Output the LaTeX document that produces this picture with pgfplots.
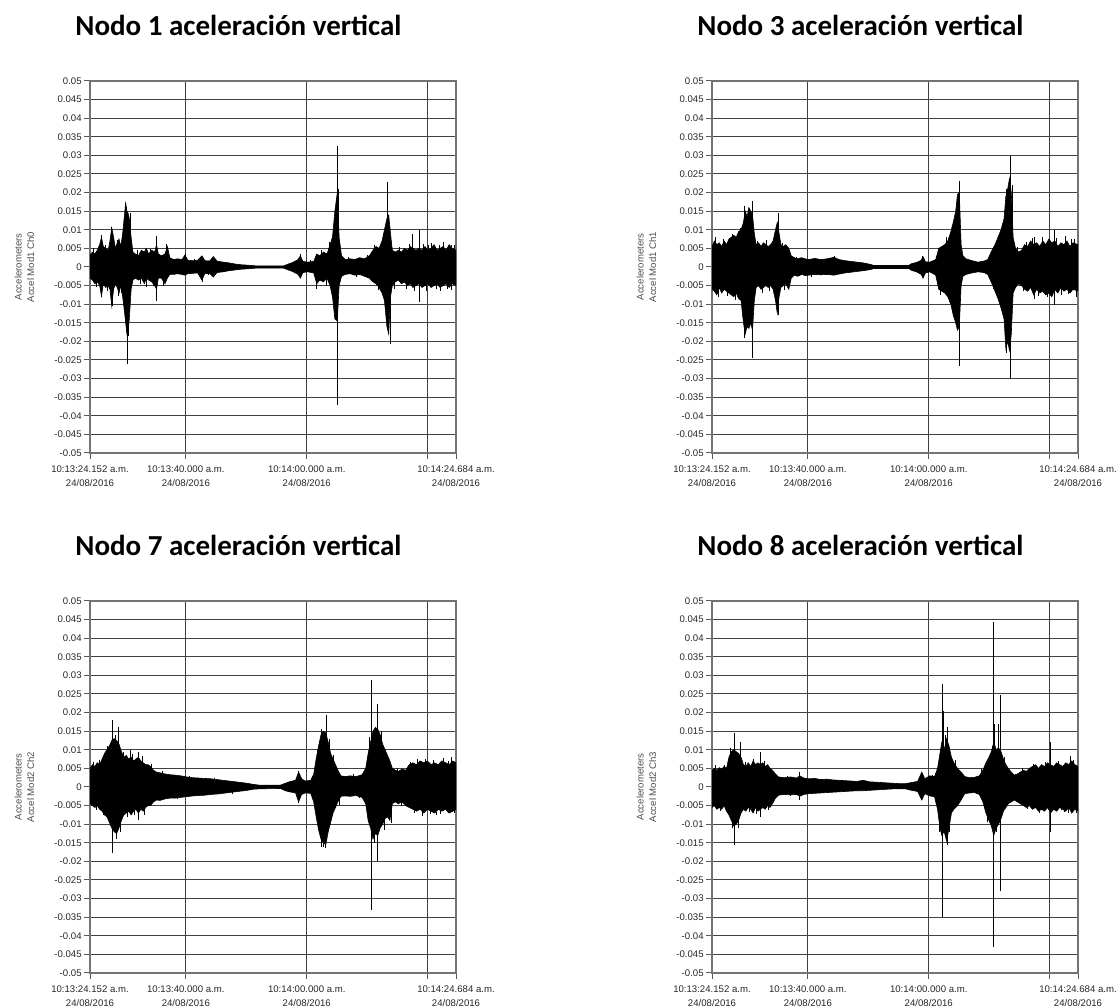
\documentclass[border=0pt]{standalone}
\usepackage{fontspec}
\setmainfont{Liberation Sans}
\newfontfamily\titlefont{Carlito}
\usepackage{pgfplots}
\usepackage{pgfplotstable}
\pgfplotsset{compat=1.18}
\usepgfplotslibrary{fillbetween}

% envelope of each record: t (s from 10:13:24.152), upper, lower
\pgfplotstableread{
t hi lo
0.0 0.0032 -0.0030
0.4 0.0040 -0.0035
0.8 0.0035 -0.0045
1.2 0.0045 -0.0040
1.6 0.0060 -0.0050
1.9 0.0080 -0.0078
2.2 0.0055 -0.0045
2.6 0.0050 -0.0055
3.0 0.0045 -0.0050
3.3 0.0070 -0.0060
3.6 0.0105 -0.0105
3.9 0.0080 -0.0060
4.2 0.0050 -0.0045
4.5 0.0065 -0.0055
4.8 0.0075 -0.0070
5.1 0.0055 -0.0050
5.4 0.0090 -0.0080
5.7 0.0140 -0.0120
5.9 0.0172 -0.0150
6.1 0.0150 -0.0180
6.3 0.0145 -0.0170
6.5 0.0130 -0.0140
6.8 0.0080 -0.0060
7.1 0.0040 -0.0035
7.5 0.0035 -0.0030
8.0 0.0030 -0.0035
8.5 0.0045 -0.0030
9.0 0.0040 -0.0045
9.3 0.0050 -0.0030
9.7 0.0035 -0.0035
10.2 0.0045 -0.0040
10.7 0.0040 -0.0050
11.0 0.0060 -0.0060
11.3 0.0035 -0.0030
11.8 0.0030 -0.0030
12.4 0.0035 -0.0045
12.8 0.0055 -0.0030
13.2 0.0025 -0.0020
13.8 0.0020 -0.0020
14.5 0.0022 -0.0018
15.2 0.0020 -0.0020
15.7 0.0032 -0.0022
16.2 0.0018 -0.0018
17.0 0.0017 -0.0017
17.8 0.0018 -0.0016
18.5 0.0030 -0.0035
19.0 0.0017 -0.0018
19.8 0.0016 -0.0017
20.4 0.0028 -0.0027
21.0 0.0016 -0.0015
22.0 0.0013 -0.0013
23.0 0.0011 -0.0010
24.0 0.0008 -0.0008
25.0 0.0006 -0.0006
26.0 0.0005 -0.0005
27.5 0.0003 -0.0003
32.0 0.0003 -0.0003
32.8 0.0008 -0.0008
33.5 0.0012 -0.0012
34.4 0.0020 -0.0020
34.8 0.0030 -0.0030
35.2 0.0015 -0.0015
36.0 0.0013 -0.0013
37.0 0.0015 -0.0016
37.5 0.0035 -0.0045
38.0 0.0030 -0.0035
38.6 0.0040 -0.0040
39.2 0.0035 -0.0030
39.7 0.0060 -0.0050
40.1 0.0080 -0.0080
40.5 0.0150 -0.0140
40.9 0.0200 -0.0145
41.2 0.0080 -0.0050
41.6 0.0030 -0.0025
42.2 0.0020 -0.0020
43.0 0.0022 -0.0018
43.8 0.0020 -0.0022
44.6 0.0025 -0.0020
45.4 0.0022 -0.0025
46.2 0.0030 -0.0030
46.8 0.0045 -0.0040
47.3 0.0055 -0.0045
47.8 0.0050 -0.0055
48.3 0.0070 -0.0070
48.7 0.0100 -0.0090
49.1 0.0130 -0.0160
49.4 0.0140 -0.0180
49.7 0.0090 -0.0080
50.0 0.0045 -0.0050
50.5 0.0040 -0.0040
51.0 0.0045 -0.0035
51.5 0.0040 -0.0045
52.0 0.0050 -0.0040
52.5 0.0045 -0.0050
53.0 0.0055 -0.0045
53.4 0.0050 -0.0055
53.9 0.0045 -0.0050
54.4 0.0050 -0.0045
54.9 0.0045 -0.0055
55.4 0.0055 -0.0050
55.9 0.0045 -0.0045
56.4 0.0050 -0.0055
56.9 0.0060 -0.0050
57.4 0.0045 -0.0045
57.9 0.0050 -0.0055
58.4 0.0055 -0.0050
58.9 0.0045 -0.0045
59.4 0.0060 -0.0055
59.9 0.0050 -0.0045
60.532 0.0045 -0.0050
}\envA
\pgfplotstableread{
t y
0.6 0.0050
1.0 -0.0055
1.9 0.0085
1.9 -0.0080
2.6 0.0060
2.9 -0.0065
3.6 0.0108
3.7 -0.0105
4.5 0.0072
4.6 -0.0078
5.2 -0.0070
5.9 0.0172
6.0 0.0160
6.2 -0.0260
6.4 -0.0185
6.6 0.0145
7.8 0.0045
8.3 -0.0045
9.3 -0.0055
9.9 0.0048
10.4 -0.0052
11.0 0.0083
11.0 -0.0092
12.2 -0.0050
12.7 0.0062
15.7 0.0034
17.3 0.0022
18.5 -0.0040
19.5 -0.0022
34.8 0.0034
36.5 0.0020
37.5 -0.0058
38.3 0.0045
39.0 -0.0050
39.6 0.0068
40.6 0.0155
40.8 -0.0140
40.9 0.0325
40.9 -0.0370
41.0 0.0210
42.8 0.0028
44.0 -0.0028
45.8 0.0032
47.0 0.0058
47.6 -0.0062
48.5 0.0085
49.2 0.0229
49.3 0.0130
49.4 -0.0180
49.6 -0.0206
50.3 -0.0060
51.2 0.0055
52.3 -0.0058
52.8 0.0062
53.3 0.0090
53.7 -0.0065
54.4 0.0100
54.4 -0.0094
55.2 0.0062
55.7 -0.0065
56.0 0.0058
56.5 0.0065
57.2 -0.0060
57.7 0.0060
58.0 -0.0065
58.5 0.0068
59.1 -0.0060
59.7 0.0060
59.8 -0.0062
60.2 0.0058
}\spkA

\pgfplotstableread{
t hi lo
0.0 0.0055 -0.0060
0.4 0.0070 -0.0065
0.8 0.0060 -0.0075
1.2 0.0065 -0.0055
1.6 0.0055 -0.0070
2.0 0.0070 -0.0060
2.4 0.0060 -0.0065
2.8 0.0075 -0.0070
3.2 0.0080 -0.0075
3.6 0.0085 -0.0080
4.0 0.0080 -0.0070
4.4 0.0095 -0.0085
4.8 0.0100 -0.0090
5.2 0.0120 -0.0150
5.5 0.0150 -0.0180
5.8 0.0135 -0.0160
6.1 0.0160 -0.0165
6.4 0.0150 -0.0150
6.7 0.0140 -0.0170
7.0 0.0090 -0.0090
7.3 0.0060 -0.0055
7.7 0.0065 -0.0050
8.1 0.0055 -0.0060
8.5 0.0065 -0.0055
8.9 0.0060 -0.0050
9.3 0.0055 -0.0055
9.7 0.0060 -0.0050
10.1 0.0070 -0.0060
10.5 0.0100 -0.0090
10.8 0.0120 -0.0125
11.1 0.0090 -0.0080
11.4 0.0060 -0.0055
11.8 0.0055 -0.0050
12.2 0.0060 -0.0045
12.7 0.0050 -0.0060
13.1 0.0030 -0.0030
13.6 0.0025 -0.0022
14.2 0.0022 -0.0025
14.8 0.0025 -0.0020
15.4 0.0022 -0.0023
16.0 0.0020 -0.0022
17.0 0.0023 -0.0020
18.0 0.0020 -0.0021
19.0 0.0022 -0.0020
20.2 0.0026 -0.0022
21.0 0.0020 -0.0019
22.0 0.0017 -0.0016
23.0 0.0015 -0.0014
24.0 0.0013 -0.0012
25.0 0.0011 -0.0010
26.2 0.0007 -0.0007
26.8 0.0004 -0.0004
32.5 0.0004 -0.0004
33.0 0.0009 -0.0009
33.8 0.0012 -0.0013
34.6 0.0018 -0.0020
34.9 0.0028 -0.0030
35.3 0.0014 -0.0016
36.0 0.0013 -0.0013
37.0 0.0020 -0.0022
37.5 0.0050 -0.0060
38.0 0.0055 -0.0065
38.5 0.0060 -0.0070
39.0 0.0070 -0.0080
39.5 0.0095 -0.0100
39.9 0.0120 -0.0130
40.3 0.0150 -0.0150
40.6 0.0195 -0.0170
40.9 0.0200 -0.0160
41.2 0.0060 -0.0050
41.5 0.0030 -0.0025
42.0 0.0022 -0.0020
43.0 0.0017 -0.0016
44.0 0.0013 -0.0013
45.0 0.0016 -0.0015
45.6 0.0020 -0.0020
46.3 0.0045 -0.0045
46.8 0.0060 -0.0065
47.3 0.0080 -0.0085
47.8 0.0100 -0.0110
48.3 0.0130 -0.0140
48.6 0.0190 -0.0220
48.9 0.0210 -0.0200
49.2 0.0238 -0.0225
49.5 0.0200 -0.0180
49.8 0.0080 -0.0070
50.2 0.0050 -0.0055
50.7 0.0040 -0.0045
51.2 0.0045 -0.0050
51.7 0.0060 -0.0060
52.2 0.0055 -0.0065
52.7 0.0070 -0.0055
53.2 0.0060 -0.0075
53.7 0.0065 -0.0060
54.2 0.0055 -0.0070
54.7 0.0070 -0.0065
55.2 0.0060 -0.0075
55.7 0.0075 -0.0070
56.2 0.0065 -0.0080
56.7 0.0070 -0.0060
57.2 0.0055 -0.0070
57.7 0.0065 -0.0055
58.2 0.0060 -0.0065
58.7 0.0070 -0.0060
59.2 0.0055 -0.0070
59.7 0.0065 -0.0060
60.532 0.0060 -0.0065
}\envB
\pgfplotstableread{
t y
0.6 0.0080
1.1 -0.0080
1.8 0.0075
2.5 -0.0078
3.4 0.0090
3.9 -0.0090
4.6 0.0105
5.4 0.0163
5.4 -0.0190
6.0 -0.0165
6.3 0.0150
6.7 0.0177
6.7 -0.0245
7.5 0.0070
8.3 -0.0070
9.0 0.0072
9.5 -0.0065
10.9 0.0144
10.9 -0.0130
11.0 0.0105
11.7 0.0065
12.0 -0.0062
12.6 -0.0060
14.0 0.0028
16.5 -0.0026
20.2 0.0030
34.8 0.0030
37.8 -0.0075
38.8 0.0080
39.3 -0.0095
40.5 -0.0170
40.6 0.0180
40.9 0.0230
40.9 -0.0265
45.8 0.0025
46.6 -0.0060
48.6 0.0210
48.6 -0.0230
49.3 0.0298
49.3 -0.0300
49.6 0.0220
50.5 0.0055
51.5 -0.0065
52.0 0.0068
52.9 0.0078
53.3 0.0080
53.3 -0.0085
53.9 -0.0078
54.6 0.0080
55.5 -0.0082
56.6 0.0099
56.6 -0.0103
57.0 0.0078
57.8 -0.0076
58.4 0.0082
59.0 -0.0072
59.5 0.0075
60.0 0.0076
60.2 -0.0080
}\spkB

\pgfplotstableread{
t hi lo
0.0 0.0050 -0.0045
0.4 0.0060 -0.0050
0.8 0.0055 -0.0055
1.2 0.0065 -0.0050
1.6 0.0060 -0.0060
2.0 0.0075 -0.0065
2.4 0.0090 -0.0075
2.8 0.0100 -0.0080
3.2 0.0110 -0.0095
3.6 0.0125 -0.0110
4.0 0.0130 -0.0120
4.4 0.0125 -0.0125
4.8 0.0115 -0.0110
5.2 0.0095 -0.0090
5.6 0.0080 -0.0075
6.0 0.0085 -0.0070
6.4 0.0075 -0.0065
6.8 0.0080 -0.0075
7.2 0.0070 -0.0065
7.6 0.0075 -0.0060
8.0 0.0080 -0.0070
8.4 0.0070 -0.0060
8.8 0.0065 -0.0065
9.2 0.0060 -0.0055
9.6 0.0060 -0.0050
10.0 0.0055 -0.0050
10.5 0.0045 -0.0040
11.0 0.0040 -0.0035
11.6 0.0038 -0.0036
12.4 0.0035 -0.0032
13.2 0.0033 -0.0030
14.0 0.0032 -0.0030
15.0 0.0030 -0.0028
16.0 0.0027 -0.0026
17.0 0.0025 -0.0024
18.0 0.0024 -0.0023
19.0 0.0023 -0.0022
20.0 0.0022 -0.0020
21.0 0.0020 -0.0019
22.0 0.0018 -0.0017
23.0 0.0016 -0.0015
24.0 0.0014 -0.0013
25.0 0.0012 -0.0011
26.0 0.0010 -0.0009
27.0 0.0007 -0.0006
28.0 0.0005 -0.0005
31.5 0.0005 -0.0004
32.3 0.0010 -0.0010
33.0 0.0014 -0.0013
34.0 0.0018 -0.0016
34.5 0.0040 -0.0040
35.0 0.0022 -0.0020
35.6 0.0016 -0.0016
36.5 0.0018 -0.0017
37.0 0.0035 -0.0040
37.4 0.0075 -0.0080
37.8 0.0110 -0.0115
38.2 0.0140 -0.0140
38.6 0.0150 -0.0150
39.0 0.0145 -0.0155
39.4 0.0120 -0.0120
39.8 0.0090 -0.0095
40.2 0.0075 -0.0070
40.6 0.0060 -0.0055
41.0 0.0045 -0.0040
41.5 0.0030 -0.0025
42.2 0.0028 -0.0024
43.0 0.0030 -0.0025
44.0 0.0028 -0.0023
45.0 0.0033 -0.0028
45.6 0.0050 -0.0045
46.0 0.0090 -0.0090
46.4 0.0120 -0.0110
46.8 0.0150 -0.0140
47.2 0.0160 -0.0125
47.6 0.0155 -0.0130
48.0 0.0140 -0.0110
48.4 0.0115 -0.0100
48.8 0.0100 -0.0085
49.2 0.0085 -0.0080
49.6 0.0070 -0.0090
50.0 0.0050 -0.0045
50.5 0.0045 -0.0040
51.0 0.0042 -0.0045
51.6 0.0048 -0.0040
52.2 0.0045 -0.0050
52.8 0.0060 -0.0055
53.4 0.0065 -0.0060
54.0 0.0060 -0.0065
54.6 0.0070 -0.0060
55.2 0.0065 -0.0070
55.8 0.0070 -0.0060
56.4 0.0060 -0.0065
57.0 0.0065 -0.0070
57.6 0.0060 -0.0060
58.2 0.0070 -0.0065
58.8 0.0065 -0.0060
59.4 0.0060 -0.0070
60.0 0.0070 -0.0065
60.532 0.0065 -0.0060
}\envC
\pgfplotstableread{
t y
0.5 0.0068
1.0 -0.0062
1.5 0.0072
2.2 -0.0075
2.8 0.0110
3.3 -0.0105
3.7 0.0180
3.7 -0.0177
4.2 0.0140
4.4 -0.0140
4.7 0.0160
5.0 -0.0120
5.5 0.0095
6.2 -0.0080
6.6 0.0100
7.0 0.0090
7.4 -0.0075
8.0 0.0095
8.0 -0.0088
8.6 0.0082
9.0 -0.0075
10.2 0.0062
12.0 0.0042
14.5 -0.0033
16.5 0.0030
20.5 0.0025
23.5 -0.0018
34.5 0.0043
34.5 -0.0042
37.6 0.0100
38.2 0.0155
38.2 -0.0160
38.6 -0.0160
38.9 -0.0165
39.1 0.0193
39.6 0.0128
40.2 0.0085
41.3 -0.0048
43.5 0.0034
44.5 -0.0030
46.2 0.0135
46.5 -0.0240
46.6 0.0288
46.6 -0.0330
47.0 -0.0150
47.5 0.0223
47.5 -0.0200
48.2 0.0150
48.7 -0.0115
49.8 -0.0096
50.8 0.0050
51.5 -0.0052
53.0 0.0068
53.7 -0.0070
54.2 0.0075
55.0 -0.0078
55.5 0.0075
56.2 -0.0072
56.8 0.0072
57.3 -0.0075
58.0 -0.0072
58.5 0.0078
59.2 0.0070
59.8 0.0080
60.3 -0.0070
}\spkC

\pgfplotstableread{
t hi lo
0.0 0.0045 -0.0055
0.4 0.0050 -0.0050
0.8 0.0045 -0.0060
1.2 0.0052 -0.0055
1.6 0.0048 -0.0060
2.0 0.0055 -0.0050
2.4 0.0050 -0.0065
2.8 0.0080 -0.0075
3.2 0.0095 -0.0090
3.6 0.0100 -0.0105
4.0 0.0095 -0.0100
4.4 0.0090 -0.0090
4.8 0.0080 -0.0070
5.2 0.0060 -0.0060
5.6 0.0055 -0.0065
6.0 0.0065 -0.0055
6.4 0.0055 -0.0060
6.8 0.0070 -0.0070
7.2 0.0060 -0.0055
7.6 0.0065 -0.0065
8.0 0.0060 -0.0060
8.4 0.0065 -0.0055
8.8 0.0055 -0.0060
9.2 0.0060 -0.0050
9.6 0.0050 -0.0055
10.0 0.0045 -0.0045
10.5 0.0035 -0.0030
11.0 0.0027 -0.0022
12.0 0.0025 -0.0020
13.0 0.0027 -0.0021
14.0 0.0024 -0.0020
14.5 0.0030 -0.0025
15.2 0.0024 -0.0020
16.0 0.0022 -0.0018
17.0 0.0023 -0.0017
18.0 0.0020 -0.0016
19.0 0.0021 -0.0015
20.0 0.0019 -0.0014
21.0 0.0018 -0.0013
22.0 0.0017 -0.0012
23.0 0.0016 -0.0011
24.0 0.0015 -0.0010
25.0 0.0018 -0.0010
26.0 0.0014 -0.0009
27.0 0.0013 -0.0008
28.0 0.0012 -0.0007
29.0 0.0011 -0.0006
30.0 0.0010 -0.0005
31.0 0.0009 -0.0005
32.0 0.0009 -0.0005
33.0 0.0012 -0.0009
34.0 0.0015 -0.0012
34.7 0.0040 -0.0035
35.2 0.0022 -0.0018
36.0 0.0030 -0.0024
36.8 0.0028 -0.0026
37.3 0.0050 -0.0060
37.7 0.0090 -0.0110
38.0 0.0120 -0.0130
38.4 0.0100 -0.0120
38.8 0.0130 -0.0145
39.2 0.0110 -0.0110
39.6 0.0080 -0.0070
40.0 0.0065 -0.0060
40.6 0.0050 -0.0050
41.2 0.0040 -0.0035
41.8 0.0028 -0.0018
42.6 0.0025 -0.0016
43.4 0.0026 -0.0015
44.2 0.0030 -0.0020
44.8 0.0045 -0.0040
45.3 0.0065 -0.0070
45.8 0.0080 -0.0090
46.2 0.0095 -0.0105
46.6 0.0120 -0.0130
47.0 0.0100 -0.0110
47.4 0.0105 -0.0100
47.8 0.0095 -0.0085
48.2 0.0075 -0.0065
48.6 0.0060 -0.0055
49.0 0.0050 -0.0045
49.5 0.0040 -0.0040
50.0 0.0032 -0.0035
50.5 0.0035 -0.0040
51.0 0.0040 -0.0045
51.5 0.0045 -0.0050
52.0 0.0042 -0.0055
52.5 0.0050 -0.0050
53.0 0.0055 -0.0060
53.5 0.0060 -0.0055
54.0 0.0050 -0.0065
54.5 0.0060 -0.0060
55.0 0.0055 -0.0065
55.5 0.0065 -0.0055
56.0 0.0060 -0.0070
56.5 0.0055 -0.0060
57.0 0.0065 -0.0065
57.5 0.0060 -0.0055
58.0 0.0055 -0.0060
58.5 0.0065 -0.0065
59.0 0.0060 -0.0055
59.5 0.0070 -0.0070
60.0 0.0060 -0.0060
60.532 0.0055 -0.0065
}\envD
\pgfplotstableread{
t y
0.6 0.0058
1.4 -0.0065
2.1 0.0060
3.0 0.0105
3.4 -0.0110
3.7 0.0146
3.7 -0.0155
4.3 -0.0110
4.7 0.0120
5.5 0.0068
6.2 -0.0068
6.9 0.0075
7.4 -0.0072
8.0 0.0093
8.0 -0.0080
8.6 0.0070
9.3 -0.0062
12.5 0.0030
13.0 -0.0025
14.5 0.0040
14.5 -0.0035
25.0 0.0020
36.4 0.0033
37.6 -0.0120
38.1 0.0276
38.1 -0.0350
38.2 0.0205
38.6 0.0140
38.9 0.0160
38.9 -0.0155
39.3 -0.0120
40.3 0.0072
44.6 0.0048
45.6 -0.0095
46.3 0.0110
46.5 -0.0186
46.6 0.0443
46.6 -0.0430
46.7 0.0169
47.0 -0.0120
47.4 0.0170
47.6 0.0248
47.6 -0.0280
48.4 0.0080
51.3 0.0050
52.2 -0.0060
53.2 0.0062
54.2 -0.0070
55.2 0.0068
56.0 0.0122
56.0 -0.0121
57.2 0.0070
57.7 -0.0062
58.2 -0.0068
59.0 -0.0070
59.2 0.0083
59.7 0.0072
60.3 -0.0070
}\spkD

\pgfplotsset{
  panel/.style={
    scale only axis, width=183pt, height=186pt, anchor=south west,
    xmin=0, xmax=60.532, ymin=-0.05, ymax=0.05,
    scaled x ticks=false, scaled y ticks=false,
    xtick={0,15.848,35.848,60.532},
    xticklabels={{10:13:24.152 a.m.\\24/08/2016},{10:13:40.000 a.m.\\24/08/2016},
      {10:14:00.000 a.m.\\24/08/2016},{10:14:24.684 a.m.\\24/08/2016}},
    extra x ticks={55.848}, extra x tick labels={},
    extra x tick style={grid=major},
    ytick={-0.05,-0.045,-0.04,-0.035,-0.03,-0.025,-0.02,-0.015,-0.01,-0.005,0,
      0.005,0.01,0.015,0.02,0.025,0.03,0.035,0.04,0.045,0.05},
    yticklabels={-0.05,-0.045,-0.04,-0.035,-0.03,-0.025,-0.02,-0.015,-0.01,-0.005,0,
      0.005,0.01,0.015,0.02,0.025,0.03,0.035,0.04,0.045,0.05},
    xmajorgrids, ymajorgrids,
    grid style={black!75, line width=0.5pt},
    axis line style={black!55, line width=0.7pt},
    tick align=outside, xtick pos=bottom, ytick pos=left,
    major tick length=3pt,
    tick style={black!65, line width=0.5pt},
    xticklabel style={align=center, font=\fontsize{4.8}{6.8}\selectfont, text=black!85},
    yticklabel style={font=\fontsize{4.8}{6}\selectfont, text=black!85, inner xsep=1pt},
    ylabel style={align=center, font=\fontsize{4.8}{6.2}\selectfont, text=black!70,
      at={(axis description cs:-0.179,0.5)}, anchor=center},
  },
  sig/.style={draw=black, line width=0.3pt, mark=none},
  spk/.style={ycomb, black, line width=0.3pt, mark=none},
}

\newcommand\paneltitle[1]{\titlefont\bfseries\fontsize{14.5}{16}\selectfont #1}

\begin{document}
\begin{tikzpicture}
\tikzset{ttl/.style={anchor=base west, inner sep=0pt}}
\node[ttl] at (37.5pt,485.5pt) {\paneltitle{Nodo 1 aceleración vertical}};
\node[ttl] at (348.5pt,485.5pt) {\paneltitle{Nodo 3 aceleración vertical}};
\node[ttl] at (37.5pt,225.5pt) {\paneltitle{Nodo 7 aceleración vertical}};
\node[ttl] at (348.5pt,225.5pt) {\paneltitle{Nodo 8 aceleración vertical}};

\begin{axis}[panel, at={(45pt,277pt)}, ylabel={Accelerometers\\Accel Mod1 Ch0}]
\addplot[sig, name path=hiA] table[x=t,y=hi]{\envA};
\addplot[sig, name path=loA] table[x=t,y=lo]{\envA};
\addplot[black] fill between[of=hiA and loA];
\addplot[spk] table[x=t,y=y]{\spkA};
\end{axis}

\begin{axis}[panel, at={(356pt,277pt)}, ylabel={Accelerometers\\Accel Mod1 Ch1}]
\addplot[sig, name path=hiB] table[x=t,y=hi]{\envB};
\addplot[sig, name path=loB] table[x=t,y=lo]{\envB};
\addplot[black] fill between[of=hiB and loB];
\addplot[spk] table[x=t,y=y]{\spkB};
\end{axis}

\begin{axis}[panel, at={(45pt,17pt)}, ylabel={Accelerometers\\Accel Mod2 Ch2}]
\addplot[sig, name path=hiC] table[x=t,y=hi]{\envC};
\addplot[sig, name path=loC] table[x=t,y=lo]{\envC};
\addplot[black] fill between[of=hiC and loC];
\addplot[spk] table[x=t,y=y]{\spkC};
\end{axis}

\begin{axis}[panel, at={(356pt,17pt)}, ylabel={Accelerometers\\Accel Mod2 Ch3}]
\addplot[sig, name path=hiD] table[x=t,y=hi]{\envD};
\addplot[sig, name path=loD] table[x=t,y=lo]{\envD};
\addplot[black] fill between[of=hiD and loD];
\addplot[spk] table[x=t,y=y]{\spkD};
\end{axis}

\pgfresetboundingbox
\useasboundingbox (0,0) rectangle (560pt,503.5pt);
\end{tikzpicture}
\end{document}
